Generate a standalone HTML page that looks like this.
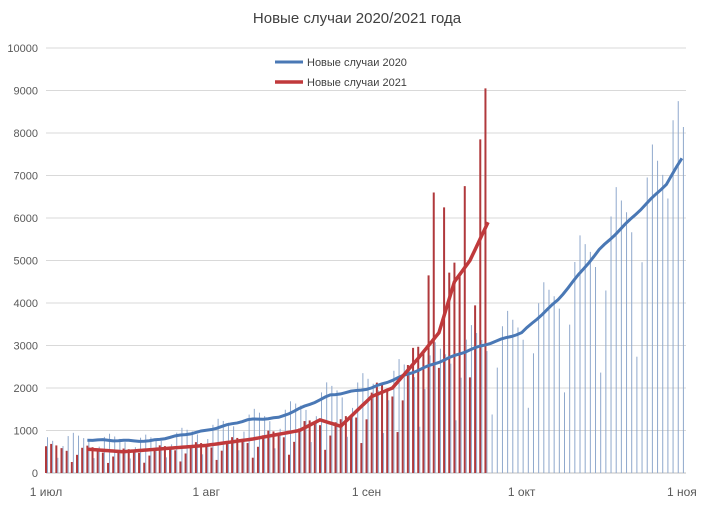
<!DOCTYPE html>
<html><head><meta charset="utf-8"><style>
body{margin:0;background:#fff;}
svg{display:block;font-family:"Liberation Sans",sans-serif;}
</style></head><body>
<svg id="c" width="713" height="511" xmlns="http://www.w3.org/2000/svg"></svg>
<script>
const s=document.getElementById('c');let h='';
const X=d=>46+d*5.17, Y=v=>473-v*0.0425;
h+='<text x="357" y="23" text-anchor="middle" font-size="15" fill="#404040">Новые случаи 2020/2021 года</text>';
for(let i=0;i<=10;i++){const y=Y(i*1000);h+=`<line x1="46" x2="686" y1="${y}" y2="${y}" stroke="${i?'#d9d9d9':'#bfbfbf'}" stroke-width="1"/>`;
h+=`<text x="38" y="${y+4}" text-anchor="end" font-size="11" fill="#595959">${i*1000}</text>`;}
[[0,'1 июл'],[31,'1 авг'],[62,'1 сен'],[92,'1 окт'],[123,'1 ноя']].forEach(([d,t])=>{h+=`<text x="${X(d)}" y="496" text-anchor="middle" font-size="12" fill="#595959">${t}</text>`;});
function interp(p,d){for(let i=0;i<p.length-1;i++){if(d<=p[i+1][0]){const t=(d-p[i][0])/(p[i+1][0]-p[i][0]);return p[i][1]+t*(p[i+1][1]-p[i][1]);}}return p[p.length-1][1];}
const B=[[0,800],[8,780],[20,750],[31,1000],[39,1250],[45,1300],[55,1830],[63,2000],[72,2420],[82,2900],[92,3300],[99,4070],[107,5250],[115,6200],[120,6800],[123,7400]];
const R=[[0,600],[8,560],[15,500],[31,650],[40,800],[49,1000],[53,1250],[57,1100],[63,1800],[67,2000],[72,2700],[76,3300],[79,4500],[82,5000],[85.5,5900]];
const pat=[1.1,1.2,1.12,1.05,0.95,0.45,0.8];
const pr=[1.05,1.15,1.1,1.0,0.9,0.45,0.75];
for(let d=0;d<=85;d++){let v=interp(R,d)*pr[d%7];if(d==75)v=6600;if(d==77)v=6250;if(d==74)v=4650;if(d==84)v=7850;if(d==85)v=9050;if(d==81)v=6750;
h+=`<line x1="${X(d)}" x2="${X(d)}" y1="473" y2="${Y(v)}" stroke="#b0393c" stroke-width="2"/>`;}
for(let d=0;d<=123;d++){let v=interp(B,d)*pat[(d+3)%7];if(d==122)v=8750;if(d==121)v=8300;
h+=`<line x1="${X(d)+1.5}" x2="${X(d)+1.5}" y1="473" y2="${Y(v)}" stroke="#8fa8cc" stroke-width="1"/>`;}
let pb='',prr='';
for(let d=8;d<=123;d++)pb+=(d==8?'M':'L')+X(d)+','+Y(interp(B,d)+Math.sin(d*1.3)*12)+' ';
for(let d=8;d<=85.5;d+=0.5)prr+=(d==8?'M':'L')+X(d)+','+Y(interp(R,d))+' ';
h+=`<path d="${pb}" fill="none" stroke="#4a78b5" stroke-width="3"/>`;
h+=`<path d="${prr}" fill="none" stroke="#c0393b" stroke-width="3.5"/>`;
h+='<line x1="275" x2="303" y1="62" y2="62" stroke="#4a78b5" stroke-width="3"/><text x="307" y="66" font-size="11" fill="#404040">Новые случаи 2020</text>';
h+='<line x1="275" x2="303" y1="82" y2="82" stroke="#c0393b" stroke-width="3.5"/><text x="307" y="86" font-size="11" fill="#404040">Новые случаи 2021</text>';
s.innerHTML=h;
</script>
</body></html>
